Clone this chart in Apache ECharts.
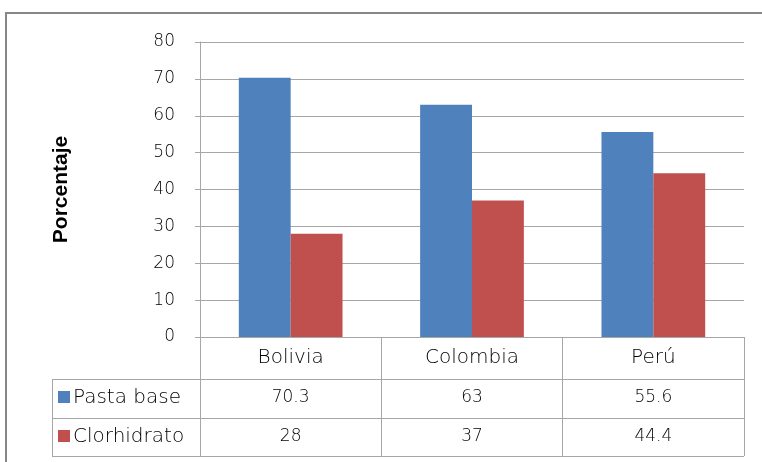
<!DOCTYPE html>
<html>
<head>
<meta charset="utf-8">
<script src="https://cdn.jsdelivr.net/npm/echarts@6/dist/echarts.min.js"></script>
<style>
  html, body { margin: 0; padding: 0; background: #fff; }
  #chart { width: 762px; height: 462px; }
</style>
</head>
<body>
<div id="chart"></div>
<script>
// Cocaine form consumed, by country (percent)
const categories = ['Bolivia', 'Colombia', 'Perú'];
const seriesNames = ['Pasta base', 'Clorhidrato'];
const pastaBase = [70.3, 63, 55.6];
const clorhidrato = [28, 37, 44.4];
const yTicks = [0, 10, 20, 30, 40, 50, 60, 70, 80];

const colors = ['#4F81BD', '#C0504D'];
const gridColor = '#a6a6a6';
const textFont = '"DejaVu Sans", sans-serif';
const textWeight = 200;
const numSize = 17;
const wordSize = 20;
const textColor = '#000000';

const chart = echarts.init(document.getElementById('chart'), null, { renderer: 'canvas' });

const gridLeft = 200, gridRight = 18, gridTop = 42, gridBottom = 125;
const rowTop = 337, row1 = 379, row2 = 418, rowEnd = 456, tableLeft = 52;

chart.setOption({
  animation: false,
  backgroundColor: '#ffffff',
  grid: { left: gridLeft, right: gridRight, top: gridTop, bottom: gridBottom },
  xAxis: {
    type: 'category',
    data: categories,
    axisLine: { lineStyle: { color: gridColor, width: 1 } },
    axisTick: { show: true, alignWithLabel: false, length: rowEnd - rowTop, lineStyle: { color: gridColor } },
    axisLabel: { margin: 11, fontFamily: textFont, fontWeight: textWeight, fontSize: wordSize, color: textColor }
  },
  yAxis: {
    type: 'value',
    min: yTicks[0],
    max: yTicks[yTicks.length - 1],
    interval: yTicks[1] - yTicks[0],
    name: 'Porcentaje',
    nameLocation: 'middle',
    nameRotate: 90,
    nameGap: 128,
    nameTextStyle: { fontFamily: 'Liberation Sans, Arial, sans-serif', fontWeight: 'bold', fontSize: 21, color: '#000' },
    axisLine: { show: true, lineStyle: { color: gridColor } },
    axisTick: { show: true, length: 5, lineStyle: { color: gridColor } },
    splitLine: { lineStyle: { color: gridColor } },
    axisLabel: { margin: 25, fontFamily: textFont, fontWeight: textWeight, fontSize: numSize, color: textColor }
  },
  series: [
    { name: seriesNames[0], type: 'bar', data: pastaBase, itemStyle: { color: colors[0] }, barWidth: '28.6%', barGap: '0%', barCategoryGap: '43%' },
    { name: seriesNames[1], type: 'bar', data: clorhidrato, itemStyle: { color: colors[1] }, barWidth: '28.6%', barGap: '0%' }
  ]
});

// Data table under the plot
function buildTable() {
  const rows = [pastaBase, clorhidrato];
  const rowTops = [row1, row2];
  const rightX = 762 - gridRight;
  const numFont = textWeight + ' ' + numSize + 'px ' + textFont;
  const wordFont = textWeight + ' ' + wordSize + 'px ' + textFont;
  const els = [];
  // outer chart-area frame
  els.push({ type: 'rect', shape: { x: 6, y: 13, width: 800, height: 500 }, style: { fill: null, stroke: '#878787', lineWidth: 2 }, silent: true });
  // horizontal rules
  [row1, row2, rowEnd].forEach(y => {
    els.push({ type: 'line', shape: { x1: tableLeft, y1: y + 0.5, x2: rightX, y2: y + 0.5 }, style: { stroke: gridColor, lineWidth: 1 } });
  });
  els.push({ type: 'line', shape: { x1: tableLeft + 0.5, y1: row1, x2: tableLeft + 0.5, y2: rowEnd }, style: { stroke: gridColor, lineWidth: 1 } });
  els.push({ type: 'line', shape: { x1: gridLeft + 0.5, y1: row1, x2: gridLeft + 0.5, y2: rowEnd }, style: { stroke: gridColor, lineWidth: 1 } });
  rows.forEach((vals, r) => {
    const top = rowTops[r];
    const mid = top + 19;
    els.push({ type: 'rect', shape: { x: tableLeft + 6, y: mid - 7, width: 12, height: 12 }, style: { fill: colors[r] } });
    els.push({ type: 'text', style: { text: seriesNames[r], x: tableLeft + 21, y: mid, verticalAlign: 'middle', font: wordFont, fill: textColor } });
    vals.forEach((v, i) => {
      const px = chart.convertToPixel({ xAxisIndex: 0 }, categories[i]);
      els.push({ type: 'text', style: { text: String(v), x: px, y: mid, align: 'center', verticalAlign: 'middle', font: numFont, fill: textColor } });
    });
  });
  chart.setOption({ graphic: els });
}
buildTable();
</script>
</body>
</html>
